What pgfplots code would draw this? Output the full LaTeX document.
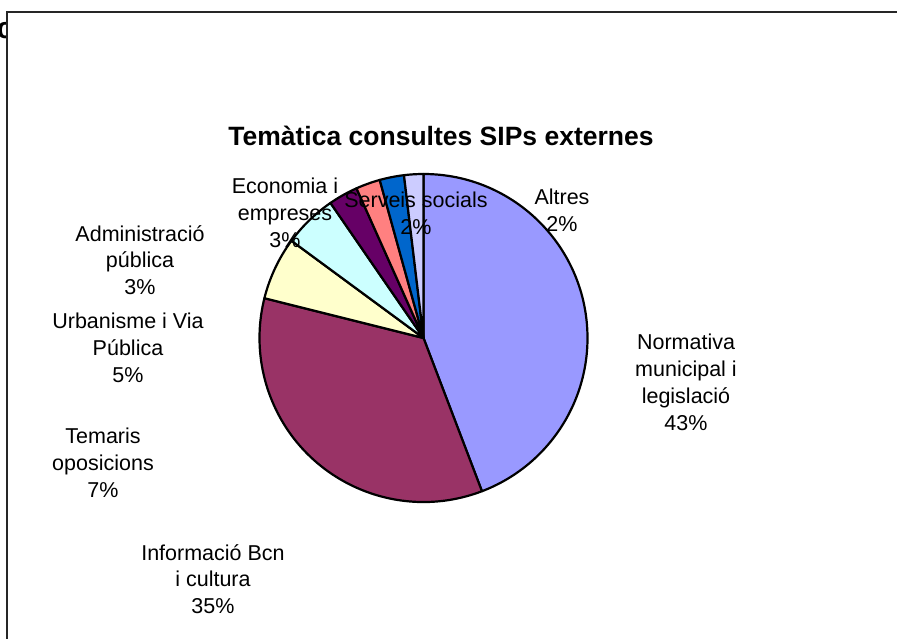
\documentclass[border=0pt]{standalone}
\usepackage{fontspec}
\setmainfont{Liberation Sans}
\usepackage{pgfplots}
\usepackage{pgfplotstable}
\pgfplotsset{compat=1.18}
\definecolor{c0}{HTML}{9999FF}
\definecolor{c1}{HTML}{993366}
\definecolor{c2}{HTML}{FFFFCC}
\definecolor{c3}{HTML}{CCFFFF}
\definecolor{c4}{HTML}{660066}
\definecolor{c5}{HTML}{FF8080}
\definecolor{c6}{HTML}{0066CC}
\definecolor{c7}{HTML}{CCCCFF}
\pgfplotstableread{
idx value
0 44.2
1 34.7
2 6.2
3 5.3
4 2.9
5 2.4
6 2.4
7 1.9
}\piedata
\begin{document}
\begin{tikzpicture}
\begin{axis}[name=ax, at={(0,0)}, anchor=south west, scale only axis,
  width=897pt, height=639pt, xmin=0, xmax=897, ymin=0, ymax=639,
  y dir=reverse, hide axis, clip=true]
\node[font=\fontsize{30}{34}\selectfont\bfseries] at (axis cs:5,31) {c};
\fill[white] (axis cs:7,12) rectangle (axis cs:920,660);
\draw[line width=1.6pt, color=black!85] (axis cs:920,12) -- (axis cs:7,12) -- (axis cs:7,660);
\pgfmathsetmacro\cum{0}
\pgfplotsforeachungrouped \i in {0,...,7}{
  \pgfplotstablegetelem{\i}{value}\of\piedata
  \pgfmathsetmacro\a{90-\cum*3.6}
  \pgfmathsetmacro\cum{\cum+\pgfplotsretval}
  \pgfmathsetmacro\b{90-\cum*3.6}
  \edef\temp{\noexpand\filldraw[fill=c\i, draw=black, line width=2.2pt, line join=round] (axis cs:423.5,338) -- ++(\a:164pt) arc[start angle=\a, end angle=\b, radius=164pt] -- cycle;}
  \temp
}
\node[font=\fontsize{26.5}{30}\selectfont\bfseries] at (axis cs:441,136) {Temàtica consultes SIPs externes};
\begin{scope}[every node/.style={align=center, font=\fontsize{21.5}{26.8}\selectfont}]
\node at (axis cs:686,382.5) {Normativa\\municipal i\\legislació\\43\%};
\node at (axis cs:213,579) {Informació Bcn\\i cultura\\35\%};
\node at (axis cs:103,463) {Temaris\\oposicions\\7\%};
\node at (axis cs:128,348) {Urbanisme i Via\\Pública\\5\%};
\node at (axis cs:140,260) {Administració\\pública\\3\%};
\node at (axis cs:285,213) {Economia i\\empreses\\3\%};
\node at (axis cs:416,213) {Serveis socials\\2\%};
\node at (axis cs:562,210) {Altres\\2\%};
\end{scope}
\end{axis}
\pgfresetboundingbox
\useasboundingbox (ax.south west) rectangle (ax.north east);
\end{tikzpicture}
\end{document}
